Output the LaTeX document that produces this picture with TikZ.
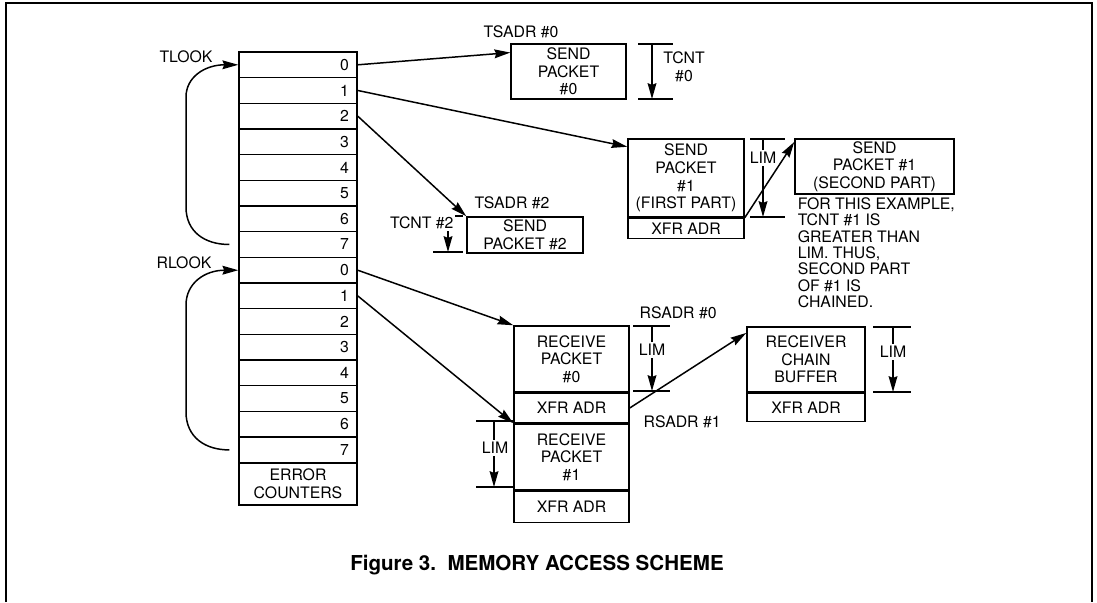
\documentclass[tikz,border=0pt]{standalone}
\usepackage{fontspec}
\setmainfont{TeX Gyre Heros}
\usepackage{tikz}
\usetikzlibrary{arrows.meta,positioning,calc}

\begin{document}
\begin{tikzpicture}[
  x=0.02cm, y=-0.02cm,
  font=\fontsize{9}{10}\selectfont,
  line width=0.85pt,
  cell/.style={draw, minimum height=0.513cm, text width=2.04cm, inner xsep=0.16cm, inner ysep=0pt, align=right},
  box/.style={draw, align=center, inner sep=0pt, minimum width=#1},
  box/.default=2.3cm,
  lim/.style={fill=white, inner sep=1pt},
  arr/.style={-{Stealth[length=9pt, width=5pt, inset=1pt]}}]
\useasboundingbox (0,0) rectangle (1097,602);
\draw[line width=1.1pt] (6,602) -- (6,3) -- (1092,3) -- (1092,602);
% transmit and receive rings
\foreach \i in {0,...,7} {
  \node[cell] (t\i) at (298,{64.8+25.67*\i}) {\i};
  \node[cell] (r\i) at (298,{270.2+25.67*\i}) {\i};
}
\node[cell, align=center, minimum height=0.84cm] (err) at (298,484) {ERROR\\COUNTERS};
\node (tlook) at (186,57) {TLOOK};
\node (rlook) at (184,263) {RLOOK};
\draw[arr] ($(t7.west)+(-9,0)$) .. controls (205,244.5) and (186,232) .. (186,207) -- (186,97) .. controls (186,77) and (205,64.8) .. (t0.west);
\draw[arr] ($(r7.west)+(-9,0)$) .. controls (205,450) and (186,437) .. (186,412) -- (186,305) .. controls (186,283) and (205,270.2) .. (r0.west);
% buffers
\node[box, minimum height=1.1cm] (s0) at (568.5,71.5) {SEND\\PACKET\\\#0};
\node[box=2.32cm, minimum height=1.56cm] (s1a) at (686,178) {SEND\\PACKET\\\#1\\(FIRST PART)};
\node[box=2.32cm, minimum height=0.4cm, below=0pt of s1a] (x1) {XFR ADR};
\node[box=3.18cm, minimum height=1.1cm] (s1b) at (874.5,166.5) {SEND\\PACKET \#1\\(SECOND PART)};
\node[box=2.32cm, minimum height=0.72cm] (s2) at (525,235) {SEND\\PACKET \#2};
\node[box, minimum height=1.32cm] (rp0) at (571.5,359) {RECEIVE\\PACKET\\\#0};
\node[box, minimum height=0.58cm, below=0pt of rp0] (rx0) {XFR ADR};
\node[box, minimum height=1.32cm, below=0pt of rx0] (rp1) {RECEIVE\\PACKET\\\#1};
\node[box, minimum height=0.62cm, below=0pt of rp1] (rx1) {XFR ADR};
\node[box=2.36cm, minimum height=1.3cm] (cb) at (806,359.5) {RECEIVER\\CHAIN\\BUFFER};
\node[box=2.36cm, minimum height=0.56cm, below=0pt of cb] (cbx) {XFR ADR};
% length marks
\foreach \xl/\xr/\xm/\yt/\yb in {638/673/652/44/99, 750/785/763/139/217, 433/463/448/216/252, 633/670/652/326/391, 476/513/494/421/487, 873/911/893/327/392} {
  \draw (\xl,\yt) -- (\xr,\yt) (\xl,\yb) -- (\xr,\yb);
  \draw[arr] (\xm,\yt) -- (\xm,\yb);
}
\node[align=center] (tcnt0) at (684,67) {TCNT\\\#0};
\node[lim, anchor=east] (tcnt2) at (456,223) {TCNT \#2};
\node[lim] (lim1) at (763,158) {LIM};
\node[lim] (lim2) at (652,350) {LIM};
\node[lim] (lim3) at (495,448) {LIM};
\node[lim] (lim4) at (893,352) {LIM};
\node[anchor=west] (tsa0) at (477,32) {TSADR \#0};
\node[anchor=west] (tsa2) at (468,203) {TSADR \#2};
\node[anchor=west] (rsa0) at (633,313) {RSADR \#0};
\node[anchor=west] (rsa1) at (637,422) {RSADR \#1};
\node[anchor=north west, align=left, inner sep=0pt, font=\fontsize{9}{9.3}\selectfont] (note) at (797,197) {FOR THIS EXAMPLE,\\TCNT \#1 IS\\GREATER THAN\\LIM. THUS,\\SECOND PART\\OF \#1 IS\\CHAINED.};
% pointers
\draw[arr] (t0.east) -- (s0.162);
\draw[arr] (t1.east) -- (s1a.152);
\draw[arr] (t2.east) -- (s2.north west);
\draw[arr] (r0.east) -- (rp0.north west);
\draw[arr] (r1.east) -- (rp1.north west);
\draw[arr] (x1.north east) -- (s1b.163);
\draw[arr] (rx0.east) -- (cb.156);
\node[font=\fontsize{11.7}{14}\selectfont\bfseries] (cap) at (537,565) {Figure 3.\ \ MEMORY ACCESS SCHEME};
\end{tikzpicture}
\end{document}
